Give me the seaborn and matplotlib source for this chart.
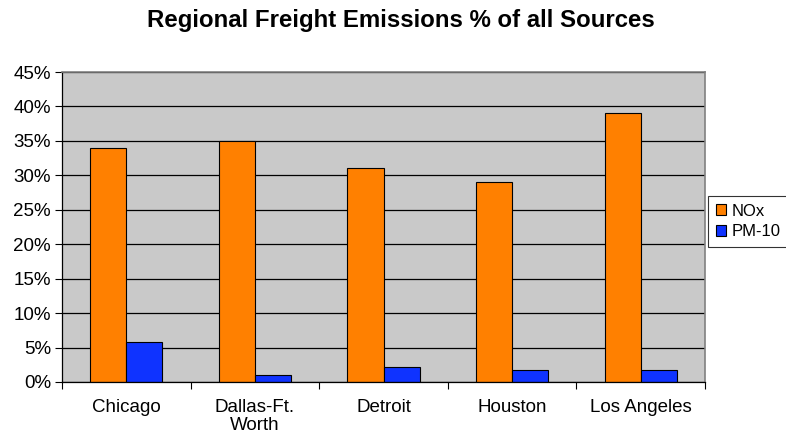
import matplotlib
matplotlib.use("Agg")
import matplotlib.pyplot as plt
import seaborn as sns
import pandas as pd
from matplotlib.ticker import FuncFormatter, FixedLocator
from matplotlib.patches import Patch

regions = ["Chicago", "Dallas-Ft.\nWorth", "Detroit", "Houston", "Los Angeles"]
nox = [34.0, 35.0, 31.0, 29.0, 39.0]
pm10 = [5.8, 1.0, 2.2, 1.7, 1.7]
series = ["NOx", "PM-10"]
colors = ["#FF8000", "#0F33FF"]
yticks = [0, 5, 10, 15, 20, 25, 30, 35, 40, 45]

df = pd.DataFrame({
    "Region": regions * 2,
    "Pollutant": [series[0]] * len(regions) + [series[1]] * len(regions),
    "Value": nox + pm10,
})

sns.set_style("white")
plt.rcParams["font.family"] = ["Liberation Sans", "DejaVu Sans"]
plt.rcParams["text.color"] = "black"
plt.rcParams["xtick.color"] = "black"
plt.rcParams["ytick.color"] = "black"

fig = plt.figure(figsize=(7.86, 4.42), dpi=100)
ax = fig.add_axes([62/786, 1-382/442, (705-62)/786, (382-72)/442])

sns.barplot(data=df, x="Region", y="Value", hue="Pollutant", order=regions,
            hue_order=series, palette=colors, width=0.56, edgecolor="black",
            linewidth=0.8, ax=ax, legend=False, saturation=1)

ax.set_facecolor("#C9C9C9")
ax.set_ylim(0, 45)
ax.set_xlim(-0.5, len(regions) - 0.5)
ax.set_yticks(yticks)
ax.yaxis.set_major_formatter(FuncFormatter(lambda v, p: f"{int(v)}%"))
ax.set_axisbelow(True)
ax.grid(axis="y", color="black", linewidth=0.9)
ax.grid(axis="x", visible=False)
ax.set_xlabel("")
ax.set_ylabel("")

ax.tick_params(axis="y", which="major", direction="out", length=5, width=0.8,
               color="black", labelsize=13.5, pad=3, left=True)
ax.tick_params(axis="x", which="major", length=0, labelsize=13.5, pad=12)
ax.xaxis.set_minor_locator(FixedLocator([i - 0.5 for i in range(len(regions) + 1)]))
ax.tick_params(axis="x", which="minor", direction="out", length=5, width=0.8,
               color="black", bottom=True)
for lbl in ax.get_xticklabels():
    lbl.set_linespacing(1.1)

for s in ["left", "bottom"]:
    ax.spines[s].set_color("black")
    ax.spines[s].set_linewidth(0.9)
for s in ["top", "right"]:
    ax.spines[s].set_color("#808080")
    ax.spines[s].set_linewidth(1.2)

fig.text(401/786, 1 - 20/442, "Regional Freight Emissions % of all Sources",
         ha="center", va="center", fontsize=17.3, fontweight="bold")

handles = [Patch(facecolor=c, edgecolor="black", linewidth=0.8) for c in colors]
leg = fig.legend(handles, series, loc="upper left",
                 bbox_to_anchor=(708/786, 1 - 196/442), frameon=True,
                 fontsize=12, handlelength=0.6, handleheight=0.6,
                 handletextpad=0.35, borderpad=0.45, labelspacing=0.35,
                 fancybox=False, edgecolor="black", borderaxespad=0)
leg.get_frame().set_linewidth(0.8)

fig.savefig("out.png", dpi=100)
